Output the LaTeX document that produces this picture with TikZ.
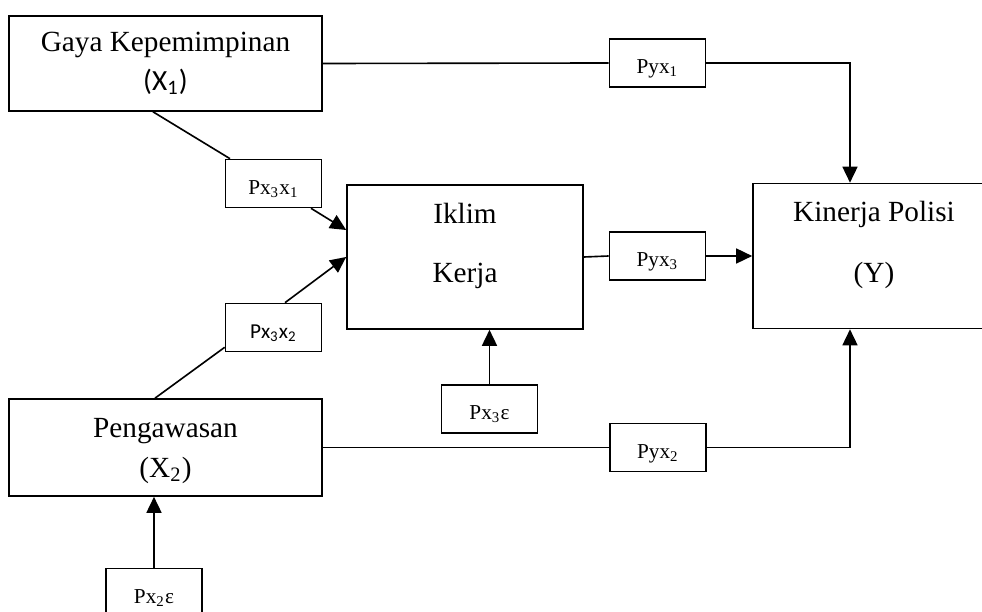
\documentclass[tikz,border=0pt]{standalone}
\usepackage{fontspec}
\setmainfont{Liberation Serif}
\newfontfamily\calfont{Carlito}
\usetikzlibrary{arrows.meta}

\begin{document}
\begin{tikzpicture}[x=0.4pt,y=-0.4pt,>={Triangle[length=6.4pt,width=6pt]},font=\fontsize{11.7}{15}\selectfont]
  \tikzstyle{var}=[draw=black, line width=0.65pt, inner sep=0pt, align=center]
  \tikzstyle{coef}=[draw=black, line width=0.65pt, inner sep=0pt, align=center, minimum width=38.4pt, minimum height=19.2pt, text height=9.6pt, text depth=1pt, font=\fontsize{8.5}{10}\selectfont]
  \tikzstyle{link}=[line width=0.65pt, draw=black]
  \tikzstyle{arrow}=[->, line width=0.65pt, draw=black]

  \path[use as bounding box] (0,0) rectangle (982,612);

  % variables
  \node[var, minimum width=125.2pt, minimum height=38pt] (gaya) at (165.5,63.5) {Gaya Kepemimpinan\\[0.6pt]{\calfont (X\textsubscript{1})}};
  \node[var, minimum width=125.2pt, minimum height=38.8pt, label={[align=center, yshift=-1.4pt]center:Pengawasan\\[1pt](X\textsubscript{2})}] (awas) at (165.5,447.5) {};
  \node[var, minimum width=94.4pt, minimum height=57.6pt, label={[align=center, yshift=4.4pt]center:Iklim\\[8.5pt]Kerja}] (iklim) at (465,257) {};
  \node[var, minimum width=96.8pt, minimum height=58pt, label={[align=center, yshift=4.4pt]center:Kinerja Polisi\\[9.5pt](Y)}] (kinerja) at (874,256) {};

  % path coefficients
  \node[coef] (pyx1) at (657.5,63) {Pyx\textsubscript{1}};
  \node[coef] (pyx3) at (657.5,256) {Pyx\textsubscript{3}};
  \node[coef] (pyx2) at (658,447.5) {Pyx\textsubscript{2}};
  \node[coef] (px3x1) at (273.5,183.5) {Px\textsubscript{3}x\textsubscript{1}};
  \node[coef, font=\calfont\fontsize{8.5}{10}\selectfont] (px3x2) at (273.5,327.5) {Px\textsubscript{3}x\textsubscript{2}};
  \node[coef] (px3e) at (489.5,409) {Px\textsubscript{3}ε};
  \node[coef] (px2e) at (154,592.5) {Px\textsubscript{2}ε};

  \draw[link] (gaya.east) -- (pyx1.west);
  \draw[arrow] (pyx1.east) -| ([xshift=-9.6pt]kinerja.north);
  \draw[link] (iklim.east) -- (pyx3.west);
  \draw[arrow] (pyx3.east) -- (kinerja.west);
  \draw[link] (awas.east) -- (pyx2.west);
  \draw[arrow] (pyx2.east) -| ([xshift=-9.6pt]kinerja.south);

  \draw[link] ([xshift=-5pt]gaya.south) -- ([xshift=-17.4pt]px3x1.north);
  \draw[arrow] ([xshift=15pt]px3x1.south) -- ([yshift=10.8pt]iklim.west);
  \draw[link] ([yshift=2pt]px3x2.south west) -- ([xshift=-4.2pt]awas.north);
  \draw[arrow] ([xshift=4.6pt]px3x2.north) -- (iklim.west);
  \draw[arrow] (px3e.north) -- (px3e.north |- iklim.south);
  \draw[arrow] (px2e.north) -- (px2e.north |- awas.south);
\end{tikzpicture}
\end{document}
